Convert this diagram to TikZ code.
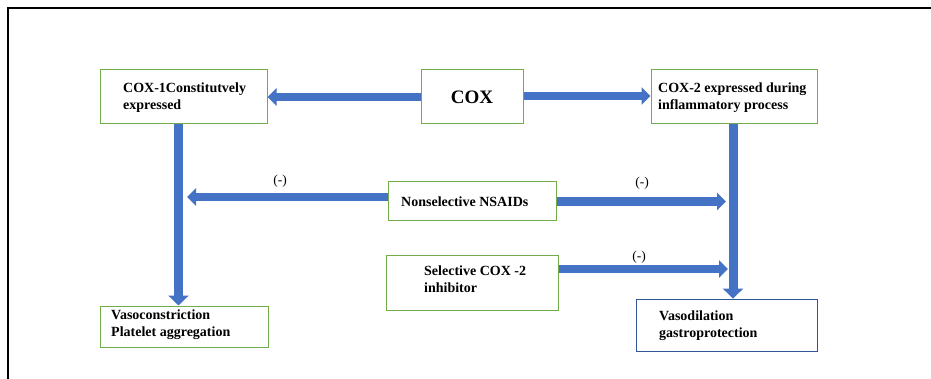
\documentclass[tikz,border=0pt]{standalone}
\usepackage{fontspec}
\setmainfont{Liberation Serif}
\usetikzlibrary{arrows.meta, positioning, calc}
\definecolor{boxgreen}{HTML}{70AD47}
\definecolor{boxblue}{HTML}{2F5597}
\definecolor{arrowblue}{HTML}{4472C4}
\tikzset{
  box/.style={draw=boxgreen, line width=1pt, inner sep=0pt},
  resultbox/.style={draw=boxblue, line width=0.9pt, inner sep=0pt},
  boxtext/.style={font=\fontsize{14}{17}\selectfont\bfseries, align=left, inner sep=0pt, anchor=west},
  signtxt/.style={font=\fontsize{13.5}{15}\selectfont, inner sep=0pt},
  hblock/.style={draw=arrowblue, line width=8.5pt, -{Triangle[length=9pt, width=17pt]}},
  vblock/.style={draw=arrowblue, line width=9pt, -{Triangle[length=10pt, width=20pt]}}
}

\begin{document}
\begin{tikzpicture}[x=1pt, y=-1pt]
  \useasboundingbox (0,0) rectangle (931,379);

  % Frame (only top and left edges visible)
  \draw[line width=2pt] (8,379) -- (8,8) -- (931,8);

  % Boxes
  \node[box, minimum width=167pt, minimum height=54pt] (cox1) at (183.5,97) {};
  \node[box, minimum width=102pt, minimum height=54pt] (cox) at (472,97) {};
  \node[box, minimum width=166pt, minimum height=54pt] (cox2) at (734,97) {};
  \node[box, minimum width=168pt, minimum height=39pt] (nonsel) at (472,201.5) {};
  \node[box, minimum width=172pt, minimum height=54pt] (sel) at (472,283) {};
  \node[box, minimum width=168pt, minimum height=41pt] (vcon) at (184,326.5) {};
  \node[resultbox, minimum width=181pt, minimum height=52pt] (vdil) at (726.5,325) {};

  % Box texts
  \node[boxtext] (cox1txt) at (123,98) {COX-1Constitutvely\\expressed};
  \node[font=\fontsize{19}{22}\selectfont\bfseries, inner sep=0pt] (coxtxt) at (cox) {COX};
  \node[boxtext] (cox2txt) at (658,98) {COX-2 expressed during\\inflammatory process};
  \node[boxtext] (nonseltxt) at (401,202) {Nonselective NSAIDs};
  \node[boxtext] (seltxt) at (424,279) {Selective COX -2\\inhibitor};
  \node[boxtext] (vcontxt) at (111,325) {Vasoconstriction\\Platelet aggregation};
  \node[boxtext] (vdiltxt) at (659,326) {Vasodilation\\gastroprotection};

  % COX to both isoforms
  \draw[hblock] (cox.west) -- (cox1.east);
  \draw[hblock] ([yshift=1pt]cox.east) -- ([yshift=1pt]cox2.west);

  % Isoforms to their effects
  \draw[vblock] ([xshift=-5pt]cox1.south) -- ([xshift=-5.5pt]vcon.north);
  \coordinate (rdown) at ([xshift=-1pt]cox2.south);
  \draw[vblock] (rdown) -- (rdown |- vdil.north);

  % Inhibitor arrows
  \coordinate (lhit) at (187,197);
  \coordinate (rhit1) at (726,201.5);
  \coordinate (rhit2) at (728,269);
  \draw[hblock] (nonsel.west |- lhit) -- (lhit);
  \draw[hblock] (nonsel.east) -- (rhit1);
  \draw[hblock] (sel.east |- rhit2) -- (rhit2);

  % Inhibition signs
  \node[signtxt] (sign1) at (280,181) {(-)};
  \node[signtxt] (sign2) at (642,183) {(-)};
  \node[signtxt] (sign3) at (639,257) {(-)};
\end{tikzpicture}
\end{document}
